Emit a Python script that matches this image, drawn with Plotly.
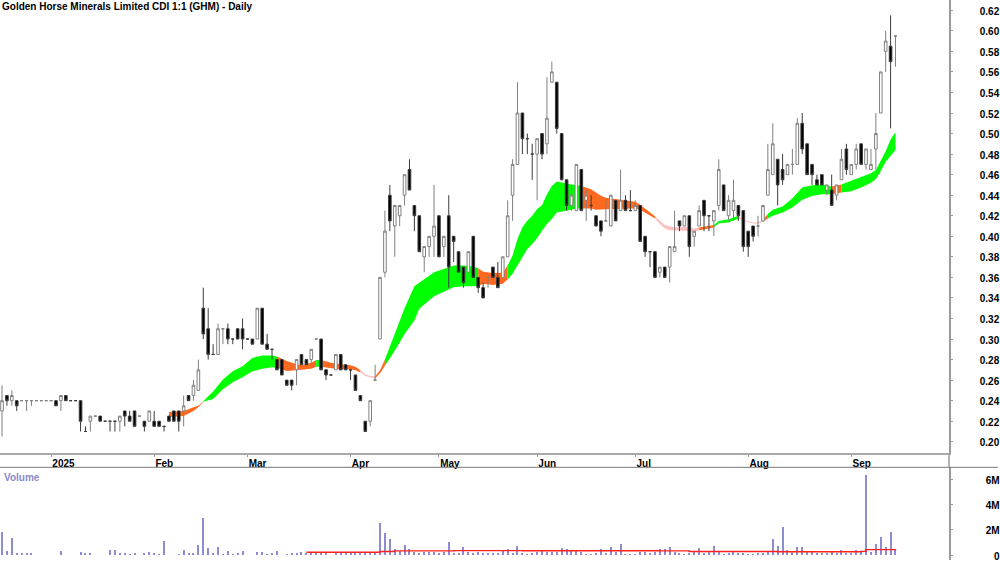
import plotly.graph_objects as go

TITLE = "Golden Horse Minerals Limited CDI 1:1 (GHM) - Daily"

month_ticks = [10, 31, 50, 71, 89, 109, 129, 152, 173]
month_labels = ["2025", "Feb", "Mar", "Apr", "May", "Jun", "Jul", "Aug", "Sep"]
price_ticks = [0.20, 0.22, 0.24, 0.26, 0.28, 0.30, 0.32, 0.34, 0.36, 0.38, 0.40, 0.42,
               0.44, 0.46, 0.48, 0.50, 0.52, 0.54, 0.56, 0.58, 0.60, 0.62]
volume_ticks = [0, 2, 4, 6]
# blank padding keeps the lone zero lined up with the right edge of the "M" labels
volume_labels = ["\u2007\u20080", "2M", "4M", "6M"]

opens = [
    .23, .245, .24, .24, .24, .24, .24, .24, .24, .24,
    .24, .24, .24, .245, .24, .24, .24, .21, .22, .225,
    .225, .22, .22, .22, .22, .23, .225, .23, .225, .22,
    .22, .22, .22, .215, .225, .23, .23, .23, .245, .245,
    .25, .33, .31, .285, .285, .31, .31, .30, .31, .31,
    .30, .30, .30, .33, .295, .29, .28, .28, .26, .26,
    .27, .285, .28, .28, .30, .30, .27, .265, .27, .285,
    .275, .27, .265, .245, .22, .22, .26, .30, .365, .44,
    .41, .42, .44, .465, .43, .42, .38, .39, .40, .42,
    .39, .42, .40, .385, .37, .365, .40, .36, .35, .36,
    .37, .36, .36, .38, .44, .47, .52, .495, .48, .48,
    .50, .49, .55, .55, .50, .455, .43, .425, .465, .435,
    .43, .42, .415, .415, .41, .435, .425, .435, .425, .425,
    .43, .40, .385, .385, .365, .37, .37, .385, .415, .41,
    .42, .40, .41, .435, .42, .415, .43, .45, .42, .425,
    .43, .425, .405, .41, .41, .415, .44, .46, .475, .465,
    .46, .47, .47, .51, .49, .47, .455, .46, .445, .445,
    .44, .455, .485, .46, .47, .49, .47, .465, .485, .52,
    .58, .585, .595,
]
highs = [
    .255, .245, .25, .24, .24, .24, .24, .24, .24, .24,
    .24, .24, .245, .245, .24, .24, .24, .215, .225, .225,
    .225, .22, .22, .22, .225, .23, .23, .23, .225, .22,
    .23, .23, .22, .215, .225, .23, .23, .245, .245, .26,
    .28, .35, .33, .295, .315, .31, .315, .30, .31, .32,
    .30, .30, .33, .33, .305, .29, .28, .28, .26, .26,
    .28, .285, .28, .29, .30, .30, .27, .265, .285, .285,
    .275, .27, .265, .245, .22, .24, .275, .36, .425, .45,
    .43, .43, .46, .475, .43, .42, .39, .40, .45, .42,
    .40, .44, .40, .385, .37, .385, .40, .36, .355, .36,
    .37, .375, .38, .435, .475, .55, .52, .50, .49, .495,
    .50, .555, .57, .55, .50, .455, .45, .47, .465, .445,
    .44, .42, .415, .435, .44, .435, .465, .44, .445, .435,
    .43, .40, .385, .385, .37, .37, .39, .425, .415, .42,
    .42, .405, .43, .435, .42, .425, .475, .45, .44, .455,
    .43, .425, .405, .41, .42, .43, .49, .51, .475, .48,
    .47, .485, .515, .52, .49, .47, .46, .46, .45, .46,
    .45, .485, .49, .47, .49, .49, .485, .485, .52, .56,
    .60, .615, .595,
]
lows = [
    .205, .235, .235, .23, .24, .23, .235, .24, .24, .24,
    .24, .235, .23, .24, .24, .24, .21, .21, .21, .225,
    .22, .22, .21, .21, .21, .215, .22, .215, .225, .21,
    .22, .215, .215, .21, .22, .22, .21, .215, .24, .24,
    .25, .30, .28, .285, .285, .295, .295, .295, .30, .29,
    .30, .295, .30, .295, .29, .28, .27, .265, .255, .25,
    .255, .275, .275, .275, .30, .27, .26, .265, .27, .27,
    .27, .26, .25, .24, .21, .215, .26, .30, .36, .405,
    .38, .41, .43, .445, .405, .385, .365, .38, .38, .38,
    .38, .35, .375, .365, .35, .365, .36, .345, .34, .35,
    .36, .35, .36, .38, .415, .47, .48, .48, .455, .435,
    .475, .48, .55, .50, .455, .425, .425, .425, .425, .415,
    .425, .41, .40, .415, .41, .415, .425, .425, .425, .425,
    .395, .38, .37, .36, .36, .36, .355, .385, .405, .41,
    .38, .39, .41, .405, .405, .40, .425, .425, .415, .415,
    .415, .385, .38, .395, .40, .415, .44, .46, .43, .45,
    .46, .46, .47, .48, .46, .45, .45, .45, .44, .43,
    .435, .455, .46, .46, .465, .47, .465, .465, .465, .52,
    .56, .505, .565,
]
closes = [
    .24, .24, .245, .235, .24, .24, .24, .24, .24, .24,
    .24, .235, .245, .24, .24, .24, .22, .21, .225, .225,
    .22, .22, .22, .22, .225, .225, .22, .215, .225, .215,
    .23, .215, .215, .215, .22, .22, .22, .235, .24, .255,
    .27, .305, .285, .285, .31, .31, .30, .30, .30, .30,
    .30, .295, .33, .295, .29, .29, .27, .265, .255, .255,
    .28, .275, .275, .29, .30, .27, .265, .265, .285, .27,
    .27, .27, .25, .24, .21, .24, .26, .36, .405, .415,
    .43, .43, .46, .445, .42, .385, .39, .40, .41, .38,
    .40, .37, .395, .365, .355, .385, .36, .35, .34, .36,
    .36, .35, .38, .42, .47, .52, .495, .495, .48, .495,
    .48, .515, .56, .505, .455, .43, .44, .47, .425, .44,
    .43, .41, .405, .415, .44, .415, .435, .425, .425, .43,
    .395, .385, .385, .36, .37, .36, .39, .39, .41, .42,
    .39, .405, .425, .42, .42, .425, .465, .425, .435, .435,
    .42, .39, .39, .40, .41, .43, .465, .49, .45, .455,
    .47, .47, .51, .485, .46, .46, .45, .45, .45, .43,
    .45, .475, .465, .47, .485, .47, .485, .47, .50, .56,
    .59, .57, .595,
]

volumes = [
    1.8, .3, 1.35, .18, .08, .08, .08, 0, 0, 0,
    0, 0, .3, 0, 0, 0, .2, .1, .1, 0,
    0, 0, .42, .42, .1, .08, .06, .12, 0, .08,
    .25, .08, .06, 1.13, 0, 0, .05, .37, .15, .1,
    .76, 2.95, .58, .15, .66, .05, .3, .05, .08, .3,
    0, 0, .25, .25, .05, .08, .3, 0, .06, .12,
    .12, .25, .1, .1, .15, .25, .25, 0, .08, .1,
    .2, .08, .25, .12, .15, .2, .15, 2.55, 1.76, 1.3,
    .45, .35, .8, .5, .25, .15, .2, .2, .2, .15,
    .2, 1.03, .15, .1, .66, .2, .15, .2, .1, .1,
    .1, .15, .3, .45, .1, .7, .1, .05, .1, .25,
    .3, .2, .25, .2, .55, .45, .35, .3, .2, .05,
    .05, .1, .45, .1, .6, .2, .85, .05, .05, .05,
    .2, .2, .15, .2, .5, .5, .65, .2, .1, .05,
    .1, .2, .55, .15, .2, .7, .2, .05, .15, .2,
    .1, .1, .05, .05, .1, .15, .2, 1.25, .7, 2.2,
    .4, .25, .65, .6, .3, .2, .1, .1, .1, .2,
    .1, .4, .15, .1, .4, .2, 6.3, .2, .85, 1.45,
    .65, 1.8, .5,
]
volume_ma_bars = [62, 77, 80, 92, 106, 134, 140, 158, 175, 176, 182]
volume_ma = [.24, .3, .35, .37, .36, .35, .3, .28, .31, .45, .5]

# ribbon edges, read bar by bar where it bends
ribbon_bars = [
    34, 37, 39, 40, 41, 43, 45, 47, 49, 51, 53, 55, 56, 58, 60, 61, 63, 64, 65, 67,
    69, 71, 72, 73, 74, 75, 76, 77, 78, 80, 82, 84, 85, 88, 90, 92, 94, 96, 97, 98,
    100, 102, 103, 104, 105, 106, 107, 108, 109, 110, 111, 112, 113, 114, 115, 116,
    117, 118, 119, 120, 121, 122, 123, 124, 125, 127, 129, 130, 131, 132, 133, 134,
    135, 136, 137, 138, 139, 141, 142, 143, 145, 146, 148, 150, 151, 153, 154, 155,
    156, 157, 159, 161, 163, 165, 167, 169, 170, 171, 173, 175, 177, 178, 179, 180,
    181, 182,
]
ribbon_top = [
    .229, .23, .2337, .235, .2395, .249, .2605, .2686, .2735, .2815, .284, .284, .283,
    .2787, .2755, .2745, .277, .2797, .2795, .277, .2755, .2745, .273, .2696, .2658,
    .2641, .2635, .2696, .28, .306, .33, .3514, .355, .365, .3682, .3715, .3715,
    .3705, .369, .3656, .3643, .3644, .3715, .3812, .3974, .4087, .4152, .42, .4265,
    .4303, .441, .449, .4533, .4523, .4507, .4504, .4497, .449, .4475, .4458, .4426,
    .4394, .4375, .4368, .436, .4348, .4336, .4307, .427, .4232, .4194, .4148, .411,
    .4097, .4087, .4087, .4093, .4077, .4086, .4096, .4109, .415, .4167, .42, .4161,
    .4135, .4135, .4161, .4216, .4258, .429, .4371, .4474, .4497, .4503, .4484, .449,
    .4503, .4539, .4581, .4613, .4645, .4732, .4829, .4942, .5013,
]
ribbon_bottom = [
    .224, .225, .23, .2337, .239, .2417, .251, .258, .2628, .2686, .271, .2725, .272,
    .269, .2696, .27, .271, .273, .273, .2716, .2706, .2706, .2696, .2674, .2641,
    .2625, .2615, .2667, .274, .2886, .305, .318, .3295, .3417, .3463, .3505, .3514,
    .3514, .3514, .3537, .3527, .3538, .358, .3635, .3715, .3796, .3877, .3926, .398,
    .4055, .4119, .4168, .4232, .4239, .4248, .4258, .427, .427, .427, .427, .4258,
    .4258, .4265, .4265, .4265, .4265, .427, .4258, .4232, .42, .4174, .4119, .4077,
    .4058, .4055, .4055, .4055, .4044, .406, .407, .4086, .4128, .4135, .4174, .4148,
    .4125, .4122, .4141, .4174, .42, .4232, .428, .4355, .4393, .441, .441, .4419,
    .4426, .4439, .4474, .4522, .4555, .4636, .4726, .4781, .4839,
]
ribbon_segments = [
    (34, 41, "down"), (41, 56, "up"), (56, 64, "down"), (64, 65, "up"), (65, 73, "down"),
    (73, 76, "flat"), (76, 78, "down"), (78, 97, "up"), (97, 103, "down"), (103, 118, "up"),
    (118, 133, "down"), (133, 142, "flat"), (142, 145, "down"), (145, 150, "up"),
    (150, 155, "flat"), (155, 156, "down"), (156, 169, "up"), (169, 171, "down"), (171, 182, "up"),
]
ribbon_colors = {"up": "#00ff00", "down": "#ff6a20", "flat": "#ffc0c0"}

AXIS_GRAY = "#9a9a9a"
TICK_FONT = dict(family="Liberation Sans", size=10, color="#000000", weight="bold")
PRICE_RANGE = [0.1887, 0.63]
BAR_RANGE = [-0.41, 192.9]

bars = list(range(len(closes)))

fig = go.Figure()

# the ribbon sits on its own base axis so the candles can be drawn over it
for start, end, trend in ribbon_segments:
    i0, i1 = ribbon_bars.index(start), ribbon_bars.index(end) + 1
    xs = ribbon_bars[i0:i1]
    fig.add_trace(
        go.Scatter(
            x=xs + xs[::-1],
            y=ribbon_top[i0:i1] + ribbon_bottom[i0:i1][::-1],
            yaxis="y3",
            mode="lines",
            line=dict(width=0),
            fill="toself",
            fillcolor=ribbon_colors[trend],
            hoverinfo="skip",
            showlegend=False,
        )
    )

fig.add_trace(
    go.Candlestick(
        x=bars,
        open=opens,
        high=highs,
        low=lows,
        close=closes,
        increasing=dict(line=dict(color="#808080", width=1), fillcolor="#ffffff"),
        decreasing=dict(line=dict(color="#3c3c3c", width=1), fillcolor="#000000"),
        whiskerwidth=0,
        showlegend=False,
    )
)

fig.add_trace(
    go.Bar(
        x=bars,
        y=volumes,
        width=0.22,
        marker=dict(color="#8c8cd2", line=dict(width=0)),
        xaxis="x2",
        yaxis="y2",
        showlegend=False,
    )
)
fig.add_trace(
    go.Scatter(
        x=volume_ma_bars,
        y=volume_ma,
        mode="lines",
        line=dict(color="#ff2020", width=1.4, shape="hv"),
        xaxis="x2",
        yaxis="y2",
        showlegend=False,
    )
)

fig.update_layout(
    width=1000,
    height=562,
    margin=dict(l=0, r=49, t=0, b=0),
    plot_bgcolor="#ffffff",
    paper_bgcolor="#ffffff",
    bargap=0,
    boxgap=0.24,
    title=dict(
        text=TITLE,
        x=0.002,
        xanchor="left",
        y=0.988,
        yanchor="middle",
        font=dict(family="Liberation Sans", size=10, color="#000000", weight="bold"),
    ),
    xaxis=dict(
        domain=[0, 1],
        range=BAR_RANGE,
        tickmode="array",
        tickvals=month_ticks,
        ticktext=month_labels,
        ticks="outside",
        ticklen=2,
        tickcolor=AXIS_GRAY,
        ticklabelposition="outside right",
        tickfont=TICK_FONT,
        showgrid=False,
        zeroline=False,
        showline=True,
        linecolor="#aaaaaa",
        linewidth=1.5,
        rangeslider_visible=False,
        anchor="y",
    ),
    yaxis=dict(
        domain=[0.1904, 1],
        overlaying="y3",
        side="right",
        range=PRICE_RANGE,
        tickmode="array",
        tickvals=price_ticks,
        ticktext=[f"{v:.2f}" for v in price_ticks],
        ticks="outside",
        ticklen=2,
        tickcolor=AXIS_GRAY,
        tickfont=TICK_FONT,
        ticklabelstandoff=25,
        ticklabelshift=1,
        ticklabeloverflow="allow",
        showgrid=False,
        zeroline=False,
        showline=True,
        linecolor=AXIS_GRAY,
        linewidth=1.5,
        anchor="x",
    ),
    yaxis3=dict(
        domain=[0.1904, 1],
        range=PRICE_RANGE,
        visible=False,
        anchor="x",
    ),
    xaxis2=dict(
        domain=[0, 1],
        range=BAR_RANGE,
        showticklabels=False,
        ticks="",
        showgrid=False,
        zeroline=False,
        anchor="y2",
    ),
    yaxis2=dict(
        domain=[0, 0.1655],
        side="right",
        range=[-0.37, 6.95],
        tickmode="array",
        tickvals=volume_ticks,
        ticktext=volume_labels,
        ticks="outside",
        ticklen=2,
        tickcolor=AXIS_GRAY,
        tickfont=TICK_FONT,
        ticklabelstandoff=31,
        ticklabelshift=1,
        ticklabeloverflow="allow",
        showgrid=False,
        zeroline=False,
        showline=True,
        linecolor=AXIS_GRAY,
        linewidth=1.5,
        anchor="x2",
    ),
    annotations=[
        dict(
            text="Volume",
            xref="paper",
            yref="paper",
            x=0.002,
            y=0.148,
            xanchor="left",
            yanchor="middle",
            showarrow=False,
            font=dict(family="Liberation Sans", size=10, color="#8a8ac8", weight="bold"),
        )
    ],
    shapes=[
        # rule over the volume pane runs on under the price labels
        dict(type="line", xref="paper", yref="paper", x0=0, x1=1.0515, y0=0.1655, y1=0.1655,
             line=dict(color="#777777", width=1)),
        # right border carries on through the date band
        dict(type="line", xref="paper", yref="paper", x0=1, x1=1, y0=0.1655, y1=0.1904,
             line=dict(color=AXIS_GRAY, width=1.5)),
    ],
)

# the page's default body margin would push the figure 8px in
fig.write_html(
    "out.html",
    config={"displayModeBar": False},
    post_script="document.body.style.margin='0';",
)
